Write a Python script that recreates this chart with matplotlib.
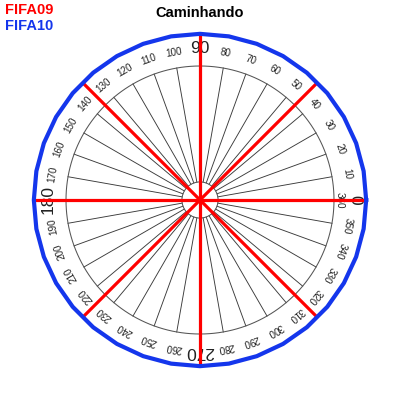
import numpy as np
import matplotlib
matplotlib.use("Agg")
import matplotlib.pyplot as plt

# ---- data ----
title = "Caminhando"
series_names = ["FIFA09", "FIFA10"]
series_colors = ["#ff0000", "#1436ec"]

# FIFA09: radial red lines (angle in degrees, value)
fifa09_angles = [0, 45, 90, 135, 180, 225, 270, 315]
fifa09_values = [1.24, 1.24, 1.24, 1.24, 1.24, 1.24, 1.24, 1.24]

# FIFA10: closed curve (angle in degrees, value)
fifa10_angles = [0, 10, 20, 30, 40, 50, 60, 70, 80, 90, 100, 110, 120, 130, 140, 150, 160, 170,
                 180, 190, 200, 210, 220, 230, 240, 250, 260, 270, 280, 290, 300, 310, 320, 330,
                 340, 350, 360]
fifa10_values = [1.24, 1.24, 1.24, 1.24, 1.24, 1.24, 1.24, 1.24, 1.24, 1.24, 1.24, 1.24, 1.24,
                 1.24, 1.24, 1.24, 1.24, 1.24, 1.24, 1.24, 1.24, 1.24, 1.24, 1.24, 1.24, 1.24,
                 1.24, 1.24, 1.24, 1.24, 1.24, 1.24, 1.24, 1.24, 1.24, 1.24, 1.24]

# angle grid and labels
spoke_angles = list(range(0, 360, 10))
small_labels = [str(a) for a in range(10, 361, 10) if a not in (90, 180, 270)]
small_label_angles = [a for a in range(10, 361, 10) if a not in (90, 180, 270)]
big_labels = ["0", "90", "180", "270"]
big_label_angles = [0, 90, 180, 270]

inner_r = 0.135
outer_r = 1.0

plt.rcParams['font.family'] = ['Liberation Sans', 'DejaVu Sans']

fig = plt.figure(figsize=(4, 4), dpi=100)
fig.patch.set_facecolor("white")
rmax = 1.3
w = 2 * rmax * 134 / 400
ax = fig.add_axes([0.5 - w / 2, 0.5 - w / 2, w, w], projection="polar")
ax.set_ylim(0, rmax)
ax.axis("off")

# spokes
for a in spoke_angles:
    t = np.deg2rad(a)
    ax.plot([t, t], [inner_r, outer_r], color="#3a3a3a", lw=0.65, zorder=1)

# circles
tt = np.linspace(0, 2 * np.pi, 361)
ax.plot(tt, np.full_like(tt, outer_r), color="#555555", lw=0.75, zorder=1)
ax.plot(tt, np.full_like(tt, inner_r), color="#555555", lw=0.75, zorder=1)

# small labels
for lab, a in zip(small_labels, small_label_angles):
    r = 1.045 if a == 360 else 1.115
    ax.text(np.deg2rad(a), r, lab, rotation=a - 90, ha="center", va="center",
            rotation_mode="anchor", fontsize=7.1, color="#222222", clip_on=False, zorder=2)
# big labels
for lab, a in zip(big_labels, big_label_angles):
    r = 1.155 if a == 0 else 1.13
    ax.text(np.deg2rad(a), r, lab, rotation=a - 90, ha="center", va="center",
            rotation_mode="anchor", fontsize=12.5, color="#222222", clip_on=False, zorder=2)

# FIFA09 red lines
for a, v in zip(fifa09_angles, fifa09_values):
    t = np.deg2rad(a)
    ax.plot([t, t], [0, v], color=series_colors[0], lw=2.3, zorder=3,
            solid_capstyle="butt", clip_on=False)

# FIFA10 blue curve
ax.plot(np.deg2rad(fifa10_angles), fifa10_values, color=series_colors[1], lw=3.0, zorder=4,
        clip_on=False)

# title and legend text
fig.text(0.5, 1 - 13 / 400, title, ha="center", va="center", fontsize=10.5, fontweight="bold",
         color="black")
fig.text(5 / 400, 1 - 9.5 / 400, series_names[0], ha="left", va="center", fontsize=10.5,
         fontweight="bold", color=series_colors[0])
fig.text(5 / 400, 1 - 26 / 400, series_names[1], ha="left", va="center", fontsize=10.5,
         fontweight="bold", color=series_colors[1])

fig.savefig("out.png", dpi=100, facecolor="white")
